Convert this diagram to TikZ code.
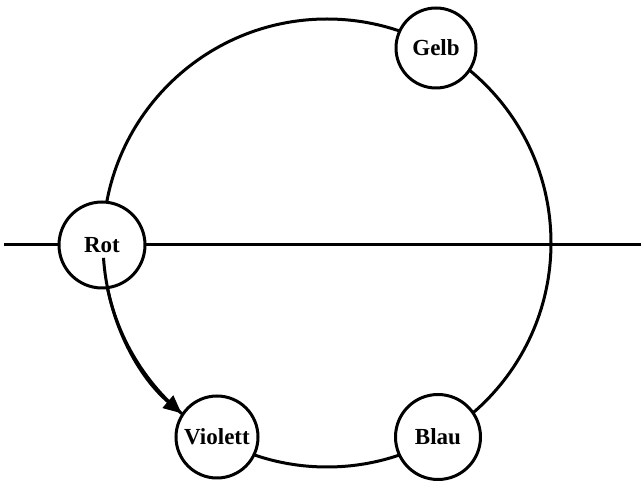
\documentclass[tikz,border=0pt]{standalone}
\usepackage{fontspec}
\setmainfont{Liberation Serif}
\usetikzlibrary{arrows.meta,calc}
\begin{document}
\begin{tikzpicture}[x=1pt,y=1pt,
  ring/.style={line width=3pt},
  colnode/.style={circle,draw,line width=3pt,fill=white,minimum size=82pt,inner sep=0pt,
    font=\fontsize{23}{28}\selectfont\bfseries},
  axis/.style={line width=3.6pt},
  turn/.style={line width=3pt,-{Triangle[length=18pt,width=16pt]}}]
\useasboundingbox (0,0) rectangle (641,482);
\coordinate (C) at (327,239);
\draw[ring] (C) circle[radius=224];
\coordinate (W) at (4,237.5);
\coordinate (E) at (641,237.5);
\draw[axis] (W) -- (E);
\node[colnode,minimum size=86pt] (rot) at (102,237) {Rot};
\node[colnode,minimum size=80pt] (gelb) at (436,434) {Gelb};
\node[colnode] (violett) at (217,45) {Violett};
\node[colnode,minimum size=85pt] (blau) at (438,45) {Blau};
\coordinate (S) at ($(C)+(183.8:224)$);
\draw[turn] (S) arc[start angle=183.8,end angle=229.5,radius=224];
\end{tikzpicture}
\end{document}
